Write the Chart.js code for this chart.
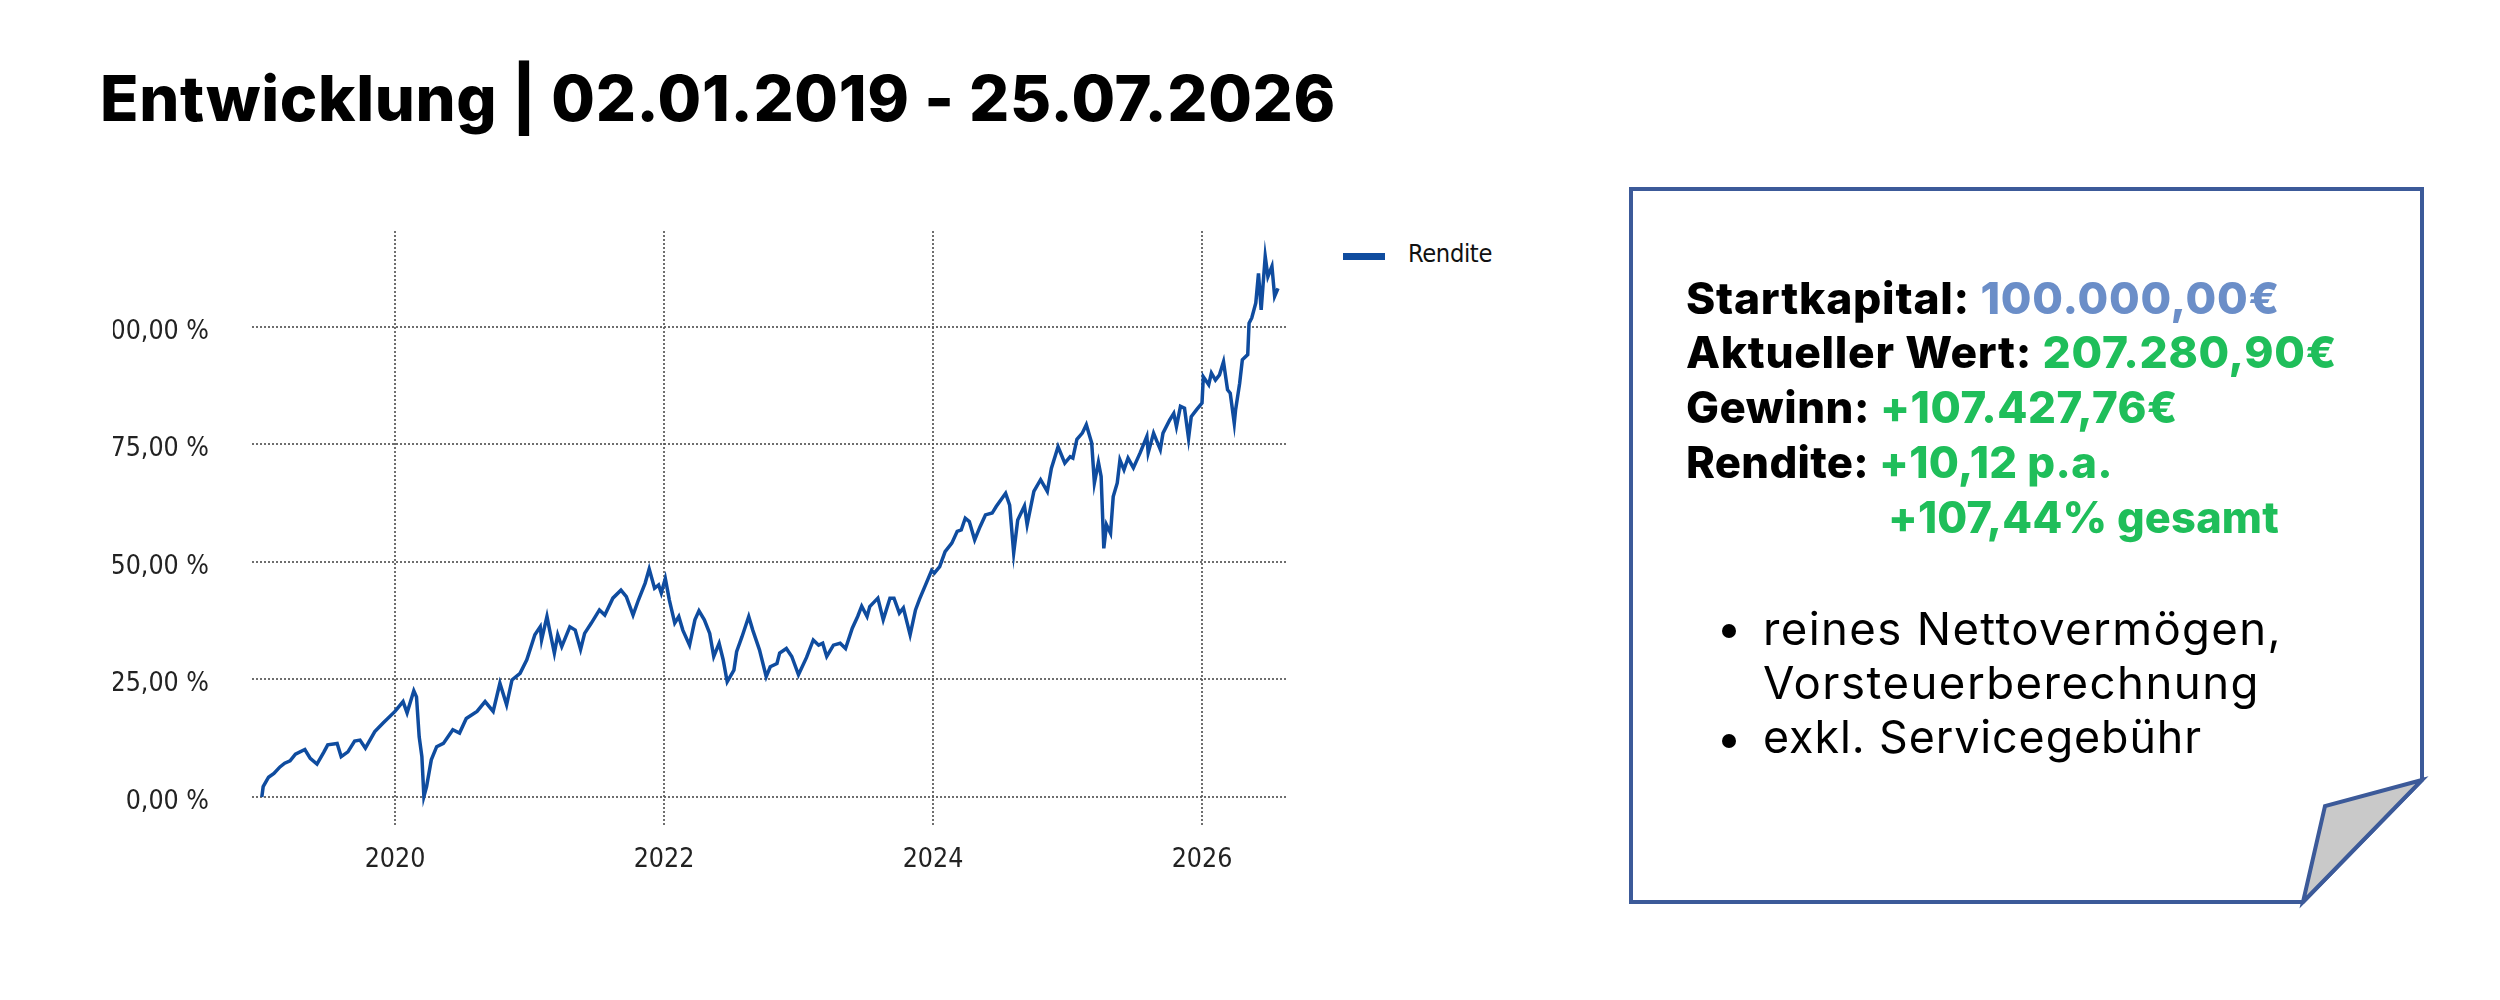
<!DOCTYPE html>
<html lang="de">
<head>
<meta charset="utf-8">
<title>Entwicklung</title>
<script src="https://cdn.jsdelivr.net/npm/chart.js@4.4.1/dist/chart.umd.min.js"></script>
<style>
  html, body { margin: 0; padding: 0; background: #fff; }
  body { width: 2500px; height: 1000px; position: relative; overflow: hidden; font-family: Inter, "Noto Sans", sans-serif; }
  .abs { position: absolute; white-space: nowrap; }
  #title { left: 100px; top: 67px; font-size: 62px; line-height: 62px; font-weight: 800; color: #000; }
  #chartWrap { left: 113px; top: 200px; width: 1187px; height: 700px; }
  .legend-line { left: 1343px; top: 253px; width: 42px; height: 7px; background: #0f4c9f; }
  .legend-text { left: 1408px; top: 241px; font-family: "DejaVu Sans Condensed", sans-serif; font-size: 26px; line-height: 26px; color: #111; }
  .box-line { font-size: 43px; line-height: 55px; font-weight: 800; color: #000; }
  .bullet { font-size: 43px; line-height: 55px; font-weight: 400; color: #000; }
  .dot { width: 14px; height: 14px; border-radius: 50%; background: #000; }
  .blue { color: #6b8ec8; }
  .green { color: #1fbe5a; }
</style>
</head>
<body>

<div id="title" class="abs fit" data-w="1236">Entwicklung | 02.01.2019 - 25.07.2026</div>

<div id="chartWrap" class="abs"><canvas id="chart" width="1187" height="700"></canvas></div>

<div class="abs legend-line"></div>
<div class="abs legend-text fit" data-w="84">Rendite</div>

<svg class="abs" style="left:0;top:0" width="2500" height="1000">
  <polygon points="1631,189 2422,189 2422,780 2303,902 1631,902" fill="#fff" stroke="#3c5a99" stroke-width="4" stroke-linejoin="miter"/>
  <polygon points="2422,780 2325,806 2303,902" fill="#c9c9c9" stroke="#3c5a99" stroke-width="4" stroke-linejoin="miter"/>
</svg>

<div class="abs box-line fit" style="left:1686px;top:271px" data-w="594">Startkapital: <span class="blue">100.000,00€</span></div>
<div class="abs box-line fit" style="left:1686px;top:325px" data-w="651">Aktueller Wert: <span class="green">207.280,90€</span></div>
<div class="abs box-line fit" style="left:1686px;top:380px" data-w="492">Gewinn: <span class="green">+107.427,76€</span></div>
<div class="abs box-line fit" style="left:1686px;top:435px" data-w="427">Rendite: <span class="green">+10,12 p.a.</span></div>
<div class="abs box-line fit green" style="left:1888px;top:490px" data-w="391">+107,44% gesamt</div>

<div class="abs dot" style="left:1722px;top:624px"></div>
<div class="abs bullet fit" style="left:1763px;top:601px" data-w="519">reines Nettovermögen,</div>
<div class="abs bullet fit" style="left:1763px;top:655px" data-w="497">Vorsteuerberechnung</div>
<div class="abs dot" style="left:1722px;top:734px"></div>
<div class="abs bullet fit" style="left:1763px;top:710px" data-w="439">exkl. Servicegebühr</div>

<script>
// time as decimal year, value = Rendite in %
const years = [
  2019.01, 2019.02, 2019.06, 2019.10, 2019.145, 2019.18, 2019.22, 2019.26, 2019.33, 2019.37,
  2019.42, 2019.47, 2019.50, 2019.57, 2019.60, 2019.65, 2019.70, 2019.74, 2019.78, 2019.85,
  2019.91, 2020.00, 2020.06, 2020.09, 2020.14, 2020.16, 2020.18, 2020.20, 2020.215, 2020.235,
  2020.27, 2020.31, 2020.36, 2020.43, 2020.48, 2020.53, 2020.61, 2020.67, 2020.73, 2020.78,
  2020.83, 2020.87, 2020.93, 2020.98, 2021.04, 2021.08, 2021.09, 2021.13, 2021.15, 2021.185,
  2021.21, 2021.24, 2021.30, 2021.34, 2021.38, 2021.41, 2021.46, 2021.52, 2021.56, 2021.62,
  2021.68, 2021.72, 2021.77, 2021.81, 2021.86, 2021.89, 2021.93, 2021.96, 2021.98, 2022.01,
  2022.04, 2022.08, 2022.11, 2022.14, 2022.19, 2022.23, 2022.26, 2022.30, 2022.34, 2022.37,
  2022.41, 2022.44, 2022.47, 2022.52, 2022.54, 2022.58, 2022.63, 2022.66, 2022.71, 2022.76,
  2022.79, 2022.84, 2022.86, 2022.91, 2022.95, 2023.00, 2023.06, 2023.11, 2023.15, 2023.18,
  2023.21, 2023.26, 2023.31, 2023.35, 2023.40, 2023.44, 2023.47, 2023.51, 2023.53, 2023.59,
  2023.63, 2023.68, 2023.71, 2023.75, 2023.78, 2023.83, 2023.87, 2023.90, 2023.94, 2023.99,
  2024.01, 2024.05, 2024.09, 2024.14, 2024.18, 2024.21, 2024.24, 2024.27, 2024.31, 2024.35,
  2024.39, 2024.44, 2024.47, 2024.54, 2024.57, 2024.60, 2024.63, 2024.68, 2024.70, 2024.75,
  2024.80, 2024.85, 2024.88, 2024.93, 2024.98, 2025.02, 2025.04, 2025.07, 2025.11, 2025.14,
  2025.18, 2025.20, 2025.23, 2025.25, 2025.27, 2025.29, 2025.32, 2025.34, 2025.37, 2025.39,
  2025.42, 2025.45, 2025.49, 2025.54, 2025.59, 2025.60, 2025.64, 2025.69, 2025.71, 2025.76,
  2025.79, 2025.81, 2025.84, 2025.87, 2025.90, 2025.92, 2025.96, 2026.00, 2026.01, 2026.05,
  2026.07, 2026.10, 2026.13, 2026.16, 2026.19, 2026.21, 2026.24, 2026.25, 2026.28, 2026.30,
  2026.34, 2026.35, 2026.37, 2026.40, 2026.42, 2026.44, 2026.47, 2026.49, 2026.52, 2026.54,
  2026.565
];
const rendite = [
  0.0, 2.2, 4.2, 5.0, 6.4, 7.2, 7.7, 9.1, 10.1, 8.2,
  7.0, 9.5, 11.1, 11.4, 8.6, 9.6, 11.9, 12.1, 10.4, 13.9,
  15.7, 18.2, 20.3, 17.9, 22.6, 21.3, 12.8, 8.6, 0.1, 2.2,
  7.9, 10.7, 11.4, 14.3, 13.6, 16.7, 18.2, 20.3, 18.2, 24.2,
  19.6, 24.9, 26.3, 29.2, 34.5, 36.2, 33.4, 38.4, 35.5, 30.6,
  34.5, 32.0, 36.2, 35.5, 31.4, 34.8, 37.0, 39.8, 38.7, 42.3,
  44.0, 42.6, 38.7, 41.9, 45.5, 48.5, 44.4, 45.1, 43.4, 46.5,
  41.9, 37.0, 38.4, 35.5, 32.3, 37.7, 39.6, 37.7, 34.8, 29.9,
  32.7, 29.2, 24.5, 27.0, 30.9, 34.1, 38.4, 35.5, 31.3, 25.6,
  27.7, 28.4, 30.6, 31.6, 29.9, 26.0, 29.7, 33.4, 32.3, 32.7,
  29.9, 32.3, 32.7, 31.6, 35.9, 38.4, 40.6, 38.4, 40.5, 42.3,
  37.7, 42.3, 42.3, 39.1, 40.2, 34.5, 39.8, 42.1, 44.8, 48.2,
  47.6, 49.0, 52.2, 54.0, 56.5, 56.8, 59.3, 58.6, 54.7, 57.5,
  60.0, 60.4, 61.8, 64.6, 62.1, 51.9, 58.9, 61.9, 57.9, 65.0,
  67.5, 65.0, 69.9, 74.5, 71.0, 72.4, 72.1, 76.1, 77.4, 79.2,
  75.3, 66.8, 71.2, 68.2, 52.9, 57.9, 56.1, 63.9, 66.8, 71.7,
  69.6, 72.1, 70.0, 73.2, 76.7, 73.2, 77.4, 73.9, 77.4, 80.2,
  81.6, 78.8, 83.1, 82.7, 76.3, 80.9, 82.4, 83.8, 89.4, 87.7,
  90.2, 88.7, 89.8, 92.6, 86.6, 85.9, 79.5, 82.4, 88.0, 93.0,
  94.1, 100.8, 101.9, 105.1, 111.4, 103.6, 115.0, 110.7, 112.9, 106.5,
  108.2
];
const yearTicks = [2020, 2022, 2024, 2026];
const percentTicks = [0, 25, 50, 75, 100];

// fit text lines to the widths of the reference: part size, part spacing
document.querySelectorAll('.fit').forEach(el => {
  const target = +el.dataset.w;
  const fs = parseFloat(getComputedStyle(el).fontSize);
  const w0 = el.getBoundingClientRect().width;
  el.style.fontSize = (fs * Math.sqrt(target / w0)) + 'px';
  const w1 = el.getBoundingClientRect().width;
  el.style.letterSpacing = ((target - w1) / el.textContent.length) + 'px';
});

const tickFont = { family: '"DejaVu Sans Condensed", sans-serif', size: 26.5 };
const gridColor = 'rgba(85, 85, 85, 0.85)';

new Chart(document.getElementById('chart'), {
  type: 'line',
  data: {
    datasets: [{
      label: 'Rendite',
      data: years.map((x, i) => ({ x: x, y: rendite[i] })),
      borderColor: '#0f4c9f',
      borderWidth: 3.5,
      pointRadius: 0,
      tension: 0,
      fill: false
    }]
  },
  options: {
    responsive: false,
    animation: false,
    devicePixelRatio: 1,
    layout: { padding: { top: 31, right: 13, left: 0, bottom: 0 } },
    plugins: { legend: { display: false }, tooltip: { enabled: false } },
    scales: {
      x: {
        type: 'linear',
        min: 2018.937,
        max: 2026.632,
        afterBuildTicks: s => { s.ticks = yearTicks.map(v => ({ value: v })); },
        afterFit: s => { s.height = 74; s.paddingLeft = 0; s.paddingRight = 0; },
        ticks: { callback: v => String(v), padding: 18, font: tickFont, color: '#222', maxRotation: 0, autoSkip: false },
        grid: { color: gridColor, lineWidth: 2, drawTicks: false },
        border: { display: false, dash: [2, 2] }
      },
      y: {
        min: -6.17,
        max: 120.4,
        afterBuildTicks: s => { s.ticks = percentTicks.map(v => ({ value: v })); },
        afterFit: s => { s.width = 139; s.paddingTop = 0; s.paddingBottom = 0; },
        ticks: { callback: v => v.toFixed(2).replace('.', ',') + ' %', padding: 43, labelOffset: 5, font: tickFont, color: '#222' },
        grid: { color: gridColor, lineWidth: 2, drawTicks: false },
        border: { display: false, dash: [2, 2] }
      }
    }
  }
});
</script>
</body>
</html>
